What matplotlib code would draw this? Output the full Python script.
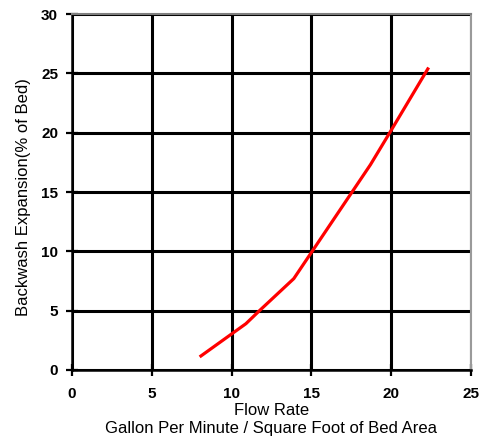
import matplotlib
matplotlib.use("Agg")
import matplotlib.pyplot as plt

flow_rate = [8.0, 10.9, 11.75, 13.9, 15.1, 17.5, 18.7, 20.0, 22.35]
expansion = [1.1, 3.9, 5.0, 7.7, 10.1, 14.9, 17.3, 20.2, 25.5]
x_ticks = [0, 5, 10, 15, 20, 25]
y_ticks = [0, 5, 10, 15, 20, 25, 30]

plt.rcParams['font.family'] = ['Liberation Sans', 'DejaVu Sans']

fig = plt.figure(figsize=(4.87, 4.42), dpi=100)
ax = fig.add_axes([0.1478, 0.163, 0.8192, 0.805])

ax.plot(flow_rate, expansion, color='#ff0000', linewidth=2.3, solid_capstyle='butt', zorder=3)

ax.set_xlim(0, 25)
ax.set_ylim(0, 30)
ax.set_xticks(x_ticks)
ax.set_yticks(y_ticks)
ax.grid(True, color='black', linewidth=2.2)
ax.set_axisbelow(True)

ax.tick_params(axis='both', direction='inout', length=8, width=1.6, labelsize=11)
ax.tick_params(axis='x', pad=8)
ax.tick_params(axis='y', pad=6)
for lbl in ax.get_xticklabels() + ax.get_yticklabels():
    lbl.set_fontweight('bold')

ax.spines['left'].set_linewidth(1.8)
ax.spines['bottom'].set_linewidth(1.8)
ax.spines['top'].set_color('#7f7f7f')
ax.spines['right'].set_color('#9a9a9a')
ax.spines['top'].set_linewidth(1.5)
ax.spines['right'].set_linewidth(1.5)

ax.set_xlabel('Flow Rate\nGallon Per Minute / Square Foot of Bed Area', fontsize=12, linespacing=1.2, labelpad=2)
ax.set_ylabel('Backwash Expansion(% of Bed)', fontsize=12, labelpad=8)
ax.yaxis.set_label_coords(-0.103, 0.485)

fig.savefig('out.png', dpi=100)
